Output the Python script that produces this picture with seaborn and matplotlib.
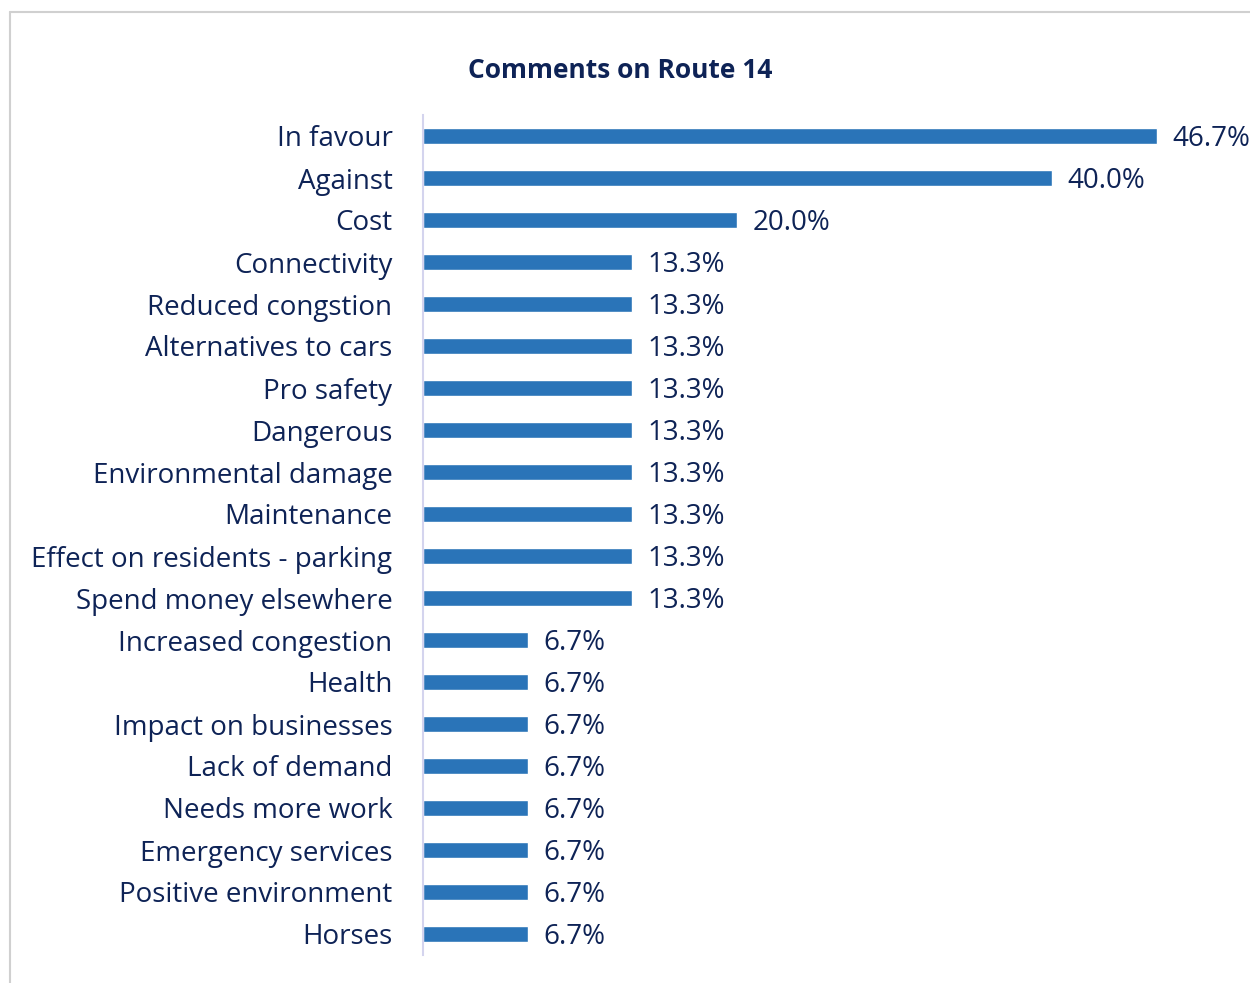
import matplotlib
matplotlib.use("Agg")
import matplotlib.pyplot as plt
from matplotlib.lines import Line2D
import seaborn as sns
import pandas as pd

categories = [
    "In favour", "Against", "Cost", "Connectivity", "Reduced congstion",
    "Alternatives to cars", "Pro safety", "Dangerous", "Environmental damage",
    "Maintenance", "Effect on residents - parking", "Spend money elsewhere",
    "Increased congestion", "Health", "Impact on businesses", "Lack of demand",
    "Needs more work", "Emergency services", "Positive environment", "Horses",
]
percent = [
    46.7, 40.0, 20.0, 13.3, 13.3, 13.3, 13.3, 13.3, 13.3, 13.3, 13.3, 13.3,
    6.7, 6.7, 6.7, 6.7, 6.7, 6.7, 6.7, 6.7,
]
title = "Comments on Route 14"

df = pd.DataFrame({"category": categories, "percent": percent})

sns.set_theme(style="white")
plt.rcParams["font.family"] = ["Open Sans", "DejaVu Sans"]

navy = "#0e2356"
bar_color = "#2a74b8"

W, H = 1250, 983
fig = plt.figure(figsize=(W / 100, H / 100), dpi=100)
ax = fig.add_axes([423 / W, 1 - 955 / H, (W - 423) / W, 840 / H])

sns.barplot(data=df, x="percent", y="category", order=categories,
            orient="h", color=bar_color, width=0.36, saturation=1,
            ax=ax)

ax.set_xlim(0, (W - 423) / 15.72)
ax.set_ylim(len(categories) - 0.5, -0.5)
for c in ax.containers:
    texts = ax.bar_label(c, labels=[f"{v:.1f}%" for v in percent], padding=11,
                         fontsize=20, color=navy)
    for t in texts:
        t.set_va("center_baseline")

ax.set_xlabel("")
ax.set_ylabel("")
ax.set_xticks([])
ax.tick_params(axis="y", length=0, pad=22, labelsize=20, labelcolor=navy)
for s in ["top", "right", "bottom"]:
    ax.spines[s].set_visible(False)
ax.spines["left"].set_color("#d4d4ee")
ax.spines["left"].set_linewidth(1.5)

fig.text(620 / W, 1 - 70 / H, title, ha="center", va="center",
         fontsize=19, fontweight="bold", color=navy)

# outer chart-area frame
fig.add_artist(Line2D([10 / W, 10 / W], [0, 1 - 12 / H], transform=fig.transFigure,
                      color="#d0d0d0", lw=1.5))
fig.add_artist(Line2D([10 / W, 1], [1 - 12 / H, 1 - 12 / H], transform=fig.transFigure,
                      color="#d0d0d0", lw=1.5))

fig.savefig("out.png", dpi=100)
